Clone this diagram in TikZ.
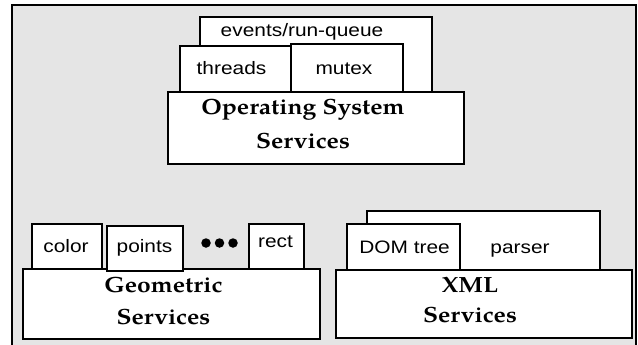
\documentclass[tikz,border=0pt]{standalone}
\usepackage{fontspec}
\setmainfont{Liberation Sans}[FakeStretch=1.16]
\newfontfamily\svcfont[FakeStretch=1.12]{texgyrepagella-bold.otf}
\definecolor{bggray}{RGB}{229,229,229}
\begin{document}
\begin{tikzpicture}[x=1pt,y=-1pt,
  box/.style={draw=black, fill=white, line width=2pt, inner sep=0pt, rectangle},
  lbl/.style={inner sep=0pt, anchor=base, font=\fontsize{18}{20}\selectfont},
  svc/.style={inner sep=0pt, align=center, anchor=base, font=\svcfont\fontsize{22}{32}\selectfont},
  dotmark/.style={circle, fill=black, inner sep=0pt, minimum size=9.5pt}]
\useasboundingbox (0,0) rectangle (638,345);
% frame
\fill[bggray] (12,5) rectangle (636,350);
\draw[line width=2.5pt] (12,350) -- (12,5) -- (636,5) -- (636,350);
% OS group
\node[box, minimum width=232pt, minimum height=74.5pt] (events) at (316,54.75) {};
\node[box, minimum width=111pt, minimum height=46pt] (threads) at (235.5,69) {};
\node[box, minimum width=112pt, minimum height=47.5pt] (mutex) at (347,68.25) {};
\node[box, minimum width=296pt, minimum height=72pt] (os) at (316,128) {};
\node[lbl] (eventsT) at (302,37) {events/run-queue};
\node[lbl] (threadsT) at (231.5,75) {threads};
\node[lbl] (mutexT) at (344,75) {mutex};
\node[svc, font=\svcfont\fontsize{22}{33}\selectfont] (osT) at (303,148) {Operating System\\Services};
% Geometric group
\node[box, minimum width=70pt, minimum height=45pt] (color) at (67,246.5) {};
\node[box, minimum width=55pt, minimum height=45pt] (rect) at (276.5,246.5) {};
\node[box, minimum width=297pt, minimum height=70pt] (geo) at (171.5,304) {};
\node[box, minimum width=76pt, minimum height=45pt] (points) at (145,248.5) {};
\node[lbl] (colorT) at (66,252) {color};
\node[lbl] (pointsT) at (144.5,252) {points};
\node[lbl] (rectT) at (275.5,247) {rect};
\node[dotmark] (d1) at (206,243) {};
\node[dotmark] (d2) at (219.5,243) {};
\node[dotmark] (d3) at (233,243) {};
\node[svc] (geoT) at (163.5,324) {Geometric\\Services};
% XML group
\node[box, minimum width=233pt, minimum height=59pt] (parser) at (483.5,240.5) {};
\node[box, minimum width=113pt, minimum height=46pt] (dom) at (403.5,247) {};
\node[box, minimum width=296pt, minimum height=68pt] (xml) at (484,304) {};
\node[lbl] (domT) at (404.5,253) {DOM tree};
\node[lbl] (parserT) at (520,253) {parser};
\node[svc, font=\svcfont\fontsize{22}{30}\selectfont] (xmlT) at (470,322) {XML\\Services};
\end{tikzpicture}
\end{document}
